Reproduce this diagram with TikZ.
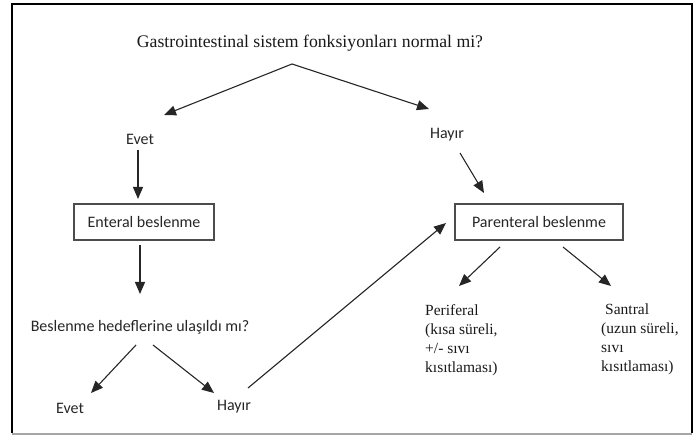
\documentclass[tikz,border=0pt]{standalone}
\usepackage{fontspec}
\setmainfont{Liberation Serif}
\newfontfamily\calfont{Carlito}
\usetikzlibrary{arrows.meta}
\tikzset{
  arr/.style={draw=black!85, line width=1.1pt, -{Triangle[length=12pt,width=10pt]}},
  boxnode/.style={draw=black!70, line width=1.3pt, minimum width=#1, minimum height=36pt, inner sep=0pt, font=\calfont\fontsize{16}{19}\selectfont, text=black!85},
  lbl/.style={font=\calfont\fontsize{16}{19}\selectfont, text=black!85, inner sep=0pt},
  serif/.style={font=\fontsize{15.5}{19}\selectfont, text=black!90, align=left, inner sep=0pt, anchor=north west}
}
\begin{document}
\begin{tikzpicture}[x=1pt,y=-1pt]
\useasboundingbox (0,0) rectangle (696,435);
\draw[line width=1.6pt] (12,433) -- (12,4) -- (692,4) -- (692,433);
\draw[line width=1.2pt, black!35] (12,434) -- (692,434);
\node[inner sep=0pt, font=\fontsize{17.7}{21}\selectfont, text=black!90] (title) at (310,43) {Gastrointestinal sistem fonksiyonları normal mi?};
\node[lbl] (evet1) at (140,139) {Evet};
\node[lbl] (hayir1) at (447,135) {Hayır};
\node[boxnode=140pt] (ent) at (144,222) {Enteral beslenme};
\node[boxnode=168pt] (par) at (539,222) {Parenteral beslenme};
\node[lbl] (besl) at (140,327) {Beslenme hedeflerine ulaşıldı mı?};
\node[lbl] (evet2) at (70,408) {Evet};
\node[lbl] (hayir2) at (234,407) {Hayır};
\node[serif] (peri) at (425,304) {Periferal\\(kısa süreli,\\+/- sıvı\\kısıtlaması)};
\node[serif] (sant) at (601,304) {\hspace{4pt}Santral\\(uzun süreli,\\sıvı\\kısıtlaması)};
\coordinate (apex) at (292,64);
\coordinate (t1) at (164,115);
\coordinate (t2) at (429,109);
\draw[arr] (apex) -- (t1);
\draw[arr] (apex) -- (t2);
\coordinate (e1a) at (138,150);
\coordinate (e1b) at (138,199);
\draw[arr] (e1a) -- (e1b);
\coordinate (e2a) at (140,245);
\coordinate (e2b) at (140,294);
\draw[arr] (e2a) -- (e2b);
\coordinate (b1) at (136,345);
\coordinate (b1t) at (91,393);
\coordinate (b2) at (153,345);
\coordinate (b2t) at (214,393);
\draw[arr] (b1) -- (b1t);
\draw[arr] (b2) -- (b2t);
\coordinate (h2s) at (248,388);
\coordinate (h2t) at (446,223);
\draw[arr] (h2s) -- (h2t);
\coordinate (h1s) at (460,153);
\coordinate (h1t) at (484,193);
\draw[arr] (h1s) -- (h1t);
\coordinate (p1s) at (500,247);
\coordinate (p1t) at (459,286);
\coordinate (p2s) at (563,247);
\coordinate (p2t) at (611,286);
\draw[arr] (p1s) -- (p1t);
\draw[arr] (p2s) -- (p2t);
\end{tikzpicture}
\end{document}
